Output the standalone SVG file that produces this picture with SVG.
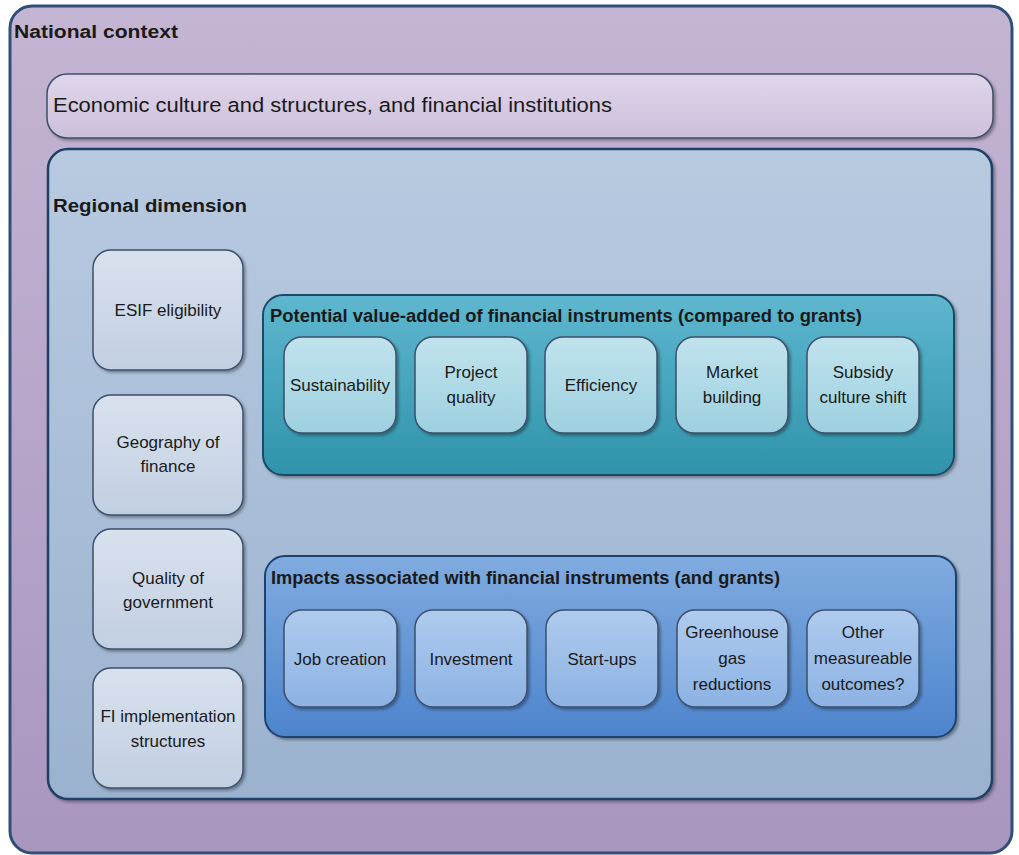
<svg xmlns="http://www.w3.org/2000/svg" width="1019" height="855" viewBox="0 0 1019 855">
<defs>
<linearGradient id="gOuter" x1="0" y1="0" x2="0" y2="1"><stop offset="0" stop-color="#c4b5d3"/><stop offset="1" stop-color="#a996bf"/></linearGradient>
<linearGradient id="gEcon" x1="0" y1="0" x2="0" y2="1"><stop offset="0" stop-color="#e0d6e9"/><stop offset="1" stop-color="#cbbfdb"/></linearGradient>
<linearGradient id="gReg" x1="0" y1="0" x2="0" y2="1"><stop offset="0" stop-color="#b8cae0"/><stop offset="1" stop-color="#9bb2cf"/></linearGradient>
<linearGradient id="gLeft" x1="0" y1="0" x2="0" y2="1"><stop offset="0" stop-color="#d8e1ed"/><stop offset="1" stop-color="#c2cfe2"/></linearGradient>
<linearGradient id="gTeal" x1="0" y1="0" x2="0" y2="1"><stop offset="0" stop-color="#5eb7cf"/><stop offset="1" stop-color="#2f93aa"/></linearGradient>
<linearGradient id="gTealIn" x1="0" y1="0" x2="0" y2="1"><stop offset="0" stop-color="#c0e3ed"/><stop offset="1" stop-color="#9dd0df"/></linearGradient>
<linearGradient id="gBlue" x1="0" y1="0" x2="0" y2="1"><stop offset="0" stop-color="#80abdf"/><stop offset="1" stop-color="#4d84cd"/></linearGradient>
<linearGradient id="gBlueIn" x1="0" y1="0" x2="0" y2="1"><stop offset="0" stop-color="#afcbee"/><stop offset="1" stop-color="#8cb2e3"/></linearGradient>
<filter id="sh" x="-10%" y="-10%" width="120%" height="130%"><feDropShadow dx="2" dy="2" stdDeviation="1.5" flood-color="#000" flood-opacity="0.35"/></filter>
</defs>
<style>
text{font-family:"Liberation Sans",Arial,sans-serif;fill:#1a1a1a;}
.t{font-size:17px;text-anchor:middle;}
.h{font-weight:bold;font-size:18px;}
.box{stroke:#3c4f6b;stroke-width:1.5;filter:url(#sh);}
</style>
<g id="national">
<rect x="10" y="6" width="1002" height="847" rx="22" fill="url(#gOuter)" stroke="#2f4e78" stroke-width="3"/>
<text class="h" x="14" y="38" font-size="20" textLength="164" lengthAdjust="spacingAndGlyphs">National context</text>
</g>
<g id="economic">
<rect class="box" x="47" y="74" width="946" height="64" rx="20" fill="url(#gEcon)"/>
<text x="53" y="112" font-size="20.5" textLength="559" lengthAdjust="spacingAndGlyphs">Economic culture and structures, and financial institutions</text>
</g>
<g id="regional">
<rect x="48" y="149" width="944" height="650" rx="20" fill="url(#gReg)" stroke="#1f3f66" stroke-width="2.5" filter="url(#sh)"/>
<text class="h" x="53" y="212" font-size="20" textLength="194" lengthAdjust="spacingAndGlyphs">Regional dimension</text>
</g>
<g id="esif">
<rect class="box" x="93" y="250" width="150" height="120" rx="18" fill="url(#gLeft)"/>
<text class="t" x="168" y="316">ESIF eligibility</text>
</g>
<g id="geography">
<rect class="box" x="93" y="395" width="150" height="120" rx="18" fill="url(#gLeft)"/>
<text class="t" x="168" y="448">Geography of</text>
<text class="t" x="168" y="472">finance</text>
</g>
<g id="quality">
<rect class="box" x="93" y="529" width="150" height="120" rx="18" fill="url(#gLeft)"/>
<text class="t" x="168" y="584">Quality of</text>
<text class="t" x="168" y="608">government</text>
</g>
<g id="fi">
<rect class="box" x="93" y="668" width="150" height="120" rx="18" fill="url(#gLeft)"/>
<text class="t" x="168" y="722">FI implementation</text>
<text class="t" x="168" y="747">structures</text>
</g>
<g id="potential">
<rect x="263" y="295" width="691" height="180" rx="20" fill="url(#gTeal)" stroke="#1f4a66" stroke-width="2" filter="url(#sh)"/>
<text class="h" x="270" y="322" font-size="19" textLength="592" lengthAdjust="spacingAndGlyphs">Potential value-added of financial instruments (compared to grants)</text>
</g>
<g id="sustainability">
<rect class="box" x="284" y="337" width="112" height="96" rx="18" fill="url(#gTealIn)"/>
<text class="t" x="340" y="391">Sustainability</text>
</g>
<g id="projectquality">
<rect class="box" x="415" y="337" width="112" height="96" rx="18" fill="url(#gTealIn)"/>
<text class="t" x="471" y="378">Project</text>
<text class="t" x="471" y="403">quality</text>
</g>
<g id="efficiency">
<rect class="box" x="545" y="337" width="112" height="96" rx="18" fill="url(#gTealIn)"/>
<text class="t" x="601" y="391">Efficiency</text>
</g>
<g id="market">
<rect class="box" x="676" y="337" width="112" height="96" rx="18" fill="url(#gTealIn)"/>
<text class="t" x="732" y="378">Market</text>
<text class="t" x="732" y="403">building</text>
</g>
<g id="subsidy">
<rect class="box" x="807" y="337" width="112" height="96" rx="18" fill="url(#gTealIn)"/>
<text class="t" x="863" y="378">Subsidy</text>
<text class="t" x="863" y="403">culture shift</text>
</g>
<g id="impacts">
<rect x="265" y="556" width="691" height="181" rx="20" fill="url(#gBlue)" stroke="#1f4370" stroke-width="2" filter="url(#sh)"/>
<text class="h" x="271" y="584" font-size="19" textLength="509" lengthAdjust="spacingAndGlyphs">Impacts associated with financial instruments (and grants)</text>
</g>
<g id="job">
<rect class="box" x="284" y="610" width="113" height="97" rx="18" fill="url(#gBlueIn)"/>
<text class="t" x="340" y="665">Job creation</text>
</g>
<g id="investment">
<rect class="box" x="415" y="610" width="112" height="97" rx="18" fill="url(#gBlueIn)"/>
<text class="t" x="471" y="665">Investment</text>
</g>
<g id="startups">
<rect class="box" x="546" y="610" width="112" height="97" rx="18" fill="url(#gBlueIn)"/>
<text class="t" x="602" y="665">Start-ups</text>
</g>
<g id="greenhouse">
<rect class="box" x="677" y="610" width="111" height="97" rx="18" fill="url(#gBlueIn)"/>
<text class="t" x="732" y="638">Greenhouse</text>
<text class="t" x="732" y="664">gas</text>
<text class="t" x="732" y="690">reductions</text>
</g>
<g id="other">
<rect class="box" x="807" y="610" width="112" height="97" rx="18" fill="url(#gBlueIn)"/>
<text class="t" x="863" y="638">Other</text>
<text class="t" x="863" y="664">measureable</text>
<text class="t" x="863" y="690">outcomes?</text>
</g>
<g id="connectors"></g>
</svg>
